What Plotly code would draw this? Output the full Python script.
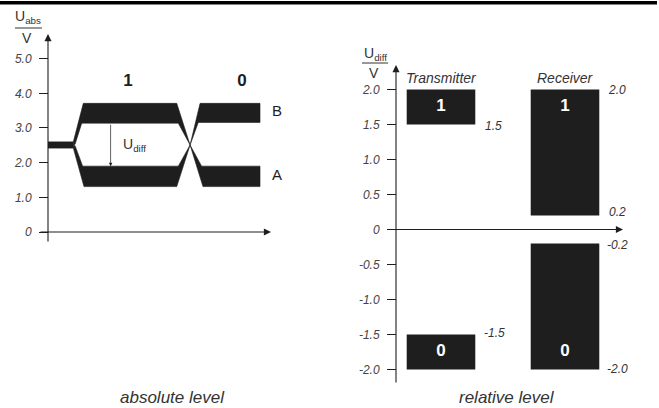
import plotly.graph_objects as go

# ---------------- data ----------------
# Left panel: absolute bus levels (time in arbitrary units, voltage in V)
idle_t = [0.0, 1.14, 1.14, 0.0]
idle_u = [2.42, 2.42, 2.60, 2.60]

B1_t = [1.14, 1.59, 5.80, 6.40, 5.87, 1.52, 1.22, 1.14]
B1_u = [2.60, 3.71, 3.71, 2.51, 3.14, 3.14, 2.53, 2.51]
A1_t = [1.14, 1.22, 1.56, 5.87, 6.40, 5.80, 1.62, 1.14]
A1_u = [2.51, 2.49, 1.90, 1.90, 2.51, 1.31, 1.31, 2.42]

B0_t = [6.40, 6.85, 9.55, 9.55, 6.77, 6.40]
B0_u = [2.51, 3.71, 3.71, 3.16, 3.16, 2.51]
A0_t = [6.40, 6.92, 9.55, 9.55, 6.98, 6.40]
A0_u = [2.51, 1.90, 1.90, 1.31, 1.31, 2.51]

bit_labels = ["1", "0"]
bit_t = [3.60, 8.74]
bit_label_u = 4.33

line_names = ["B", "A"]
line_name_u = [3.44, 1.62]
line_name_t = 10.09

udiff_t = 2.82
udiff_from = 3.14
udiff_to = 1.90

abs_tickvals = [0, 1, 2, 3, 4, 5]
abs_ticktext = ["0", "1.0", "2.0", "3.0", "4.0", "5.0"]

# Right panel: differential levels
categories = ["Transmitter", "Receiver"]
one_low = [1.5, 0.2]
one_high = [2.0, 2.0]
zero_low = [-2.0, -2.0]
zero_high = [-1.5, -0.2]

rel_tickvals = [2.0, 1.5, 1.0, 0.5, 0, -0.5, -1.0, -1.5, -2.0]
rel_ticktext = ["2.0", "1.5", "1.0", "0.5", "0", "-0.5", "-1.0", "-1.5", "-2.0"]

# ---------------- layout helpers ----------------
W, H = 659, 408
INK = "#1e1e1e"
TXT = "#333333"
FONT = "Liberation Sans, Arial, Helvetica, sans-serif"

# left panel pixel mapping
L_X0, L_PXT = 48.0, 22.2
L_Y0, L_PXV = 232.0, 34.67
L_dom_px = (30, 292)
L_domy_px = (28, 248)
# right panel pixel mapping
R_X0, R_PXC = 441.0, 124.0
R_Y0, R_PXV = 229.5, 70.0
R_dom_px = (380, 648)
R_domy_px = (60, 388)


def dom_x(px):
    return [px[0] / W, px[1] / W]


def dom_y(py):
    return [1 - py[1] / H, 1 - py[0] / H]


fig = go.Figure()

# --- left panel signal bands ---
for tt, uu in [(idle_t, idle_u), (B1_t, B1_u), (A1_t, A1_u), (B0_t, B0_u), (A0_t, A0_u)]:
    fig.add_trace(go.Scatter(x=tt, y=uu, mode="lines", fill="toself",
                             fillcolor=INK, line=dict(color=INK, width=0.6),
                             hoverinfo="skip", xaxis="x", yaxis="y"))

fig.add_trace(go.Scatter(x=bit_t, y=[bit_label_u] * 2, mode="text", text=bit_labels,
                         textfont=dict(family=FONT, size=17, color=INK, weight="bold"),
                         hoverinfo="skip", xaxis="x", yaxis="y", cliponaxis=False))
fig.add_trace(go.Scatter(x=[line_name_t] * 2, y=line_name_u, mode="text", text=line_names,
                         textposition="middle right",
                         textfont=dict(family=FONT, size=15, color=INK),
                         hoverinfo="skip", xaxis="x", yaxis="y", cliponaxis=False))

# --- right panel bars ---
fig.add_trace(go.Bar(x=categories, y=[h - l for h, l in zip(one_high, one_low)], base=one_low,
                     width=0.553, marker=dict(color=INK, line=dict(width=0)),
                     hoverinfo="skip", xaxis="x2", yaxis="y2"))
fig.add_trace(go.Bar(x=categories, y=[h - l for h, l in zip(zero_high, zero_low)], base=zero_low,
                     width=0.553, marker=dict(color=INK, line=dict(width=0)),
                     hoverinfo="skip", xaxis="x2", yaxis="y2"))
fig.add_trace(go.Scatter(x=categories, y=[1.75, 1.75], mode="text", text=["1", "1"],
                         textfont=dict(family=FONT, size=17, color="white", weight="bold"),
                         hoverinfo="skip", xaxis="x2", yaxis="y2"))
fig.add_trace(go.Scatter(x=categories, y=[-1.75, -1.75], mode="text", text=["0", "0"],
                         textfont=dict(family=FONT, size=17, color="white", weight="bold"),
                         hoverinfo="skip", xaxis="x2", yaxis="y2"))

ann = []
arrow_kw = dict(text="", showarrow=True, arrowhead=2, arrowsize=1.3, arrowwidth=1.1,
                arrowcolor=INK, standoff=0, startstandoff=0)
# left axes arrows
ann.append(dict(x=0, y=(L_Y0 - 34) / L_PXV, ax=0, ay=(L_Y0 - 243) / L_PXV,
                xref="x", yref="y", axref="x", ayref="y", **arrow_kw))
ann.append(dict(x=(271 - L_X0) / L_PXT, y=0, ax=(39 - L_X0) / L_PXT, ay=0,
                xref="x", yref="y", axref="x", ayref="y", **arrow_kw))
# U_diff measurement arrow
ann.append(dict(x=udiff_t, y=udiff_to, ax=udiff_t, ay=udiff_from,
                xref="x", yref="y", axref="x", ayref="y", text="", showarrow=True,
                arrowhead=2, arrowsize=1.0, arrowwidth=0.7, arrowcolor=INK,
                standoff=0, startstandoff=0))
ann.append(dict(x=udiff_t + 0.48, y=(udiff_from + udiff_to) / 2, xref="x", yref="y",
                text="U<sub>diff</sub>", showarrow=False, xanchor="left", yanchor="middle",
                font=dict(family=FONT, size=14, color=TXT)))

# right axes arrows
ann.append(dict(x=(396 - R_X0) / R_PXC, y=(R_Y0 - 65) / R_PXV,
                ax=(396 - R_X0) / R_PXC, ay=(R_Y0 - 384) / R_PXV,
                xref="x2", yref="y2", axref="x2", ayref="y2", **arrow_kw))
ann.append(dict(x=(623 - R_X0) / R_PXC, y=0, ax=(389 - R_X0) / R_PXC, ay=0,
                xref="x2", yref="y2", axref="x2", ayref="y2", **arrow_kw))

# category headings
for i, c in enumerate(categories):
    ann.append(dict(x=i, y=2.0, xref="x2", yref="y2", text="<i>" + c + "</i>",
                    showarrow=False, xanchor="center", yanchor="bottom", yshift=2,
                    font=dict(family=FONT, size=14, color=TXT)))


def fmt(v):
    return "%.1f" % v


# value labels next to bars
ann.append(dict(x=0.42, y=one_low[0], xref="x2", yref="y2", text="<i>" + fmt(one_low[0]) + "</i>",
                showarrow=False, xanchor="center", yanchor="middle", yshift=-1,
                font=dict(family=FONT, size=12, color=TXT)))
ann.append(dict(x=0.43, y=zero_high[0], xref="x2", yref="y2", text="<i>" + fmt(zero_high[0]) + "</i>",
                showarrow=False, xanchor="center", yanchor="middle", yshift=2,
                font=dict(family=FONT, size=12, color=TXT)))
for v, ys in [(one_high[1], 0), (one_low[1], 4), (zero_high[1], -1), (zero_low[1], 1)]:
    ann.append(dict(x=1.42, y=v, xref="x2", yref="y2", text="<i>" + fmt(v) + "</i>",
                    showarrow=False, xanchor="center", yanchor="middle", yshift=ys,
                    font=dict(family=FONT, size=12, color=TXT)))


def paper_text(px, py, text, size):
    return dict(x=px / W, y=1 - py / H, xref="paper", yref="paper", text=text,
                showarrow=False, xanchor="center", yanchor="middle",
                font=dict(family=FONT, size=size, color=TXT))


# axis unit labels (fraction style)
ann.append(paper_text(28, 17, "U<sub>abs</sub>", 14))
ann.append(paper_text(27, 38, "V", 14))
ann.append(paper_text(375, 54, "U<sub>diff</sub>", 14))
ann.append(paper_text(374, 73, "V", 14))

# bottom captions
ann.append(paper_text(172, 397, "<i>absolute level</i>", 17))
ann.append(paper_text(507, 397, "<i>relative level</i>", 17))

shapes = [
    dict(type="rect", xref="paper", yref="paper", x0=0, x1=657 / W, y0=1 - 4.5 / H, y1=1 - 1 / H,
         fillcolor="black", line=dict(width=0)),
    dict(type="line", xref="paper", yref="paper", x0=15 / W, x1=42 / W, y0=1 - 28 / H, y1=1 - 28 / H,
         line=dict(color=TXT, width=1)),
    dict(type="line", xref="paper", yref="paper", x0=362 / W, x1=388 / W, y0=1 - 63 / H, y1=1 - 63 / H,
         line=dict(color=TXT, width=1)),
]

tickfont = dict(family=FONT, size=12, color="#444444", style="italic")

fig.update_layout(
    width=W, height=H, margin=dict(l=0, r=0, t=0, b=0),
    paper_bgcolor="white", plot_bgcolor="white", showlegend=False,
    barmode="overlay",
    xaxis=dict(domain=dom_x(L_dom_px),
               range=[(L_dom_px[0] - L_X0) / L_PXT, (L_dom_px[1] - L_X0) / L_PXT],
               visible=False, fixedrange=True),
    yaxis=dict(domain=dom_y(L_domy_px),
               range=[(L_Y0 - L_domy_px[1]) / L_PXV, (L_Y0 - L_domy_px[0]) / L_PXV],
               anchor="free", position=L_X0 / W,
               tickvals=abs_tickvals, ticktext=abs_ticktext, ticks="outside", ticklen=9,
               tickwidth=1, tickcolor=INK, tickfont=tickfont, ticklabelstandoff=5,
               showline=False, showgrid=False, zeroline=False, fixedrange=True),
    xaxis2=dict(domain=dom_x(R_dom_px), type="category",
                range=[(R_dom_px[0] - R_X0) / R_PXC, (R_dom_px[1] - R_X0) / R_PXC],
                visible=False, anchor="y2", fixedrange=True),
    yaxis2=dict(domain=dom_y(R_domy_px),
                range=[(R_Y0 - R_domy_px[1]) / R_PXV, (R_Y0 - R_domy_px[0]) / R_PXV],
                anchor="free", position=396 / W,
                tickvals=rel_tickvals, ticktext=rel_ticktext, ticks="outside", ticklen=9,
                tickwidth=1, tickcolor=INK, tickfont=tickfont, ticklabelstandoff=5,
                showline=False, showgrid=False, zeroline=False, fixedrange=True),
    annotations=ann, shapes=shapes,
)

fig.write_html("out.html", config={"displayModeBar": False},
               post_script="document.body.style.margin='0';document.body.style.overflow='hidden';")
